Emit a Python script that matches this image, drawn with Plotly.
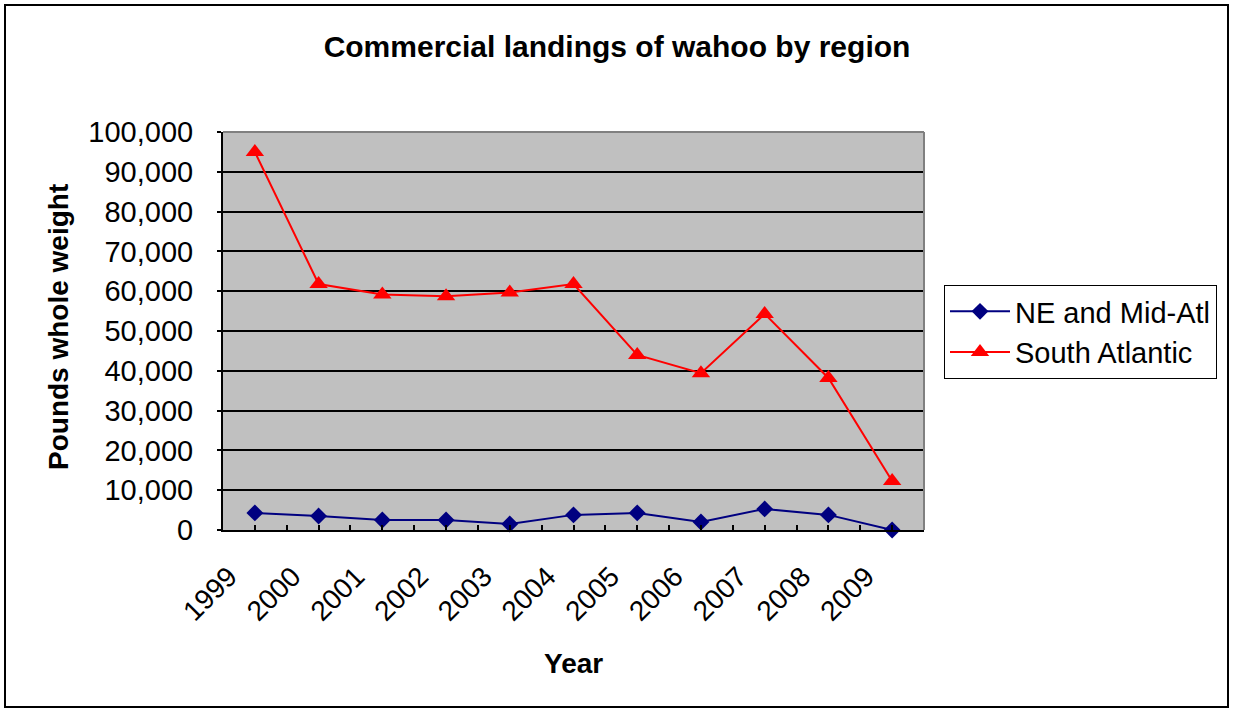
import plotly.graph_objects as go

years = ["1999", "2000", "2001", "2002", "2003", "2004", "2005", "2006", "2007", "2008", "2009"]
ne_mid_atl = [4300, 3500, 2500, 2500, 1500, 3800, 4300, 2000, 5300, 3800, 0]
south_atlantic = [95000, 61800, 59200, 58700, 59700, 61800, 44000, 39400, 54300, 38200, 12300]
y_ticks = [0, 10000, 20000, 30000, 40000, 50000, 60000, 70000, 80000, 90000, 100000]

W, H = 1233, 712
FONT = "Liberation Sans, Arial, sans-serif"
xpos = list(range(len(years)))


def px(x):
    return x / W


def py(y):
    return 1 - y / H


fig = go.Figure()
fig.add_trace(go.Scatter(
    x=xpos, y=ne_mid_atl, name="NE and Mid-Atl", mode="lines+markers",
    line=dict(color="#000080", width=2),
    marker=dict(symbol="diamond", size=13, color="#000080"),
    cliponaxis=False,
))
fig.add_trace(go.Scatter(
    x=xpos, y=south_atlantic, name="South Atlantic", mode="lines+markers",
    line=dict(color="#FF0000", width=2),
    marker=dict(symbol="triangle-up", size=16, color="#FF0000"),
    cliponaxis=False,
))

x0, x1 = px(223), px(924)
y0, y1 = py(530), py(132)

fig.update_layout(
    width=W, height=H,
    margin=dict(l=0, r=0, t=0, b=0, autoexpand=False),
    paper_bgcolor="white",
    plot_bgcolor="#C0C0C0",
    font=dict(family=FONT, color="black", size=29),
    title=dict(text="<b>Commercial landings of wahoo by region</b>",
               x=px(617), xanchor="center", y=py(46), yanchor="middle",
               font=dict(family=FONT, size=30, color="black"), automargin=False),
    xaxis=dict(
        domain=[x0, x1], range=[-0.5, len(years) - 0.5], automargin=False,
        tickmode="array", tickvals=xpos, ticktext=years,
        tickangle=-45, ticks="inside", ticklen=5, tickcolor="black", tickwidth=2,
        minor=dict(ticks="inside", ticklen=5, tickcolor="black", tickwidth=2, dtick=0.5, tick0=0.5, showgrid=False),
        showgrid=False, zeroline=False,
        showline=True, linecolor="black", linewidth=2,
        tickfont=dict(size=28), ticklabelstandoff=17, ticklabelshift=-26,
    ),
    yaxis=dict(
        domain=[y0, y1], range=[0, 100000], automargin=False,
        tickmode="array", tickvals=y_ticks, tickformat=",",
        ticks="outside", ticklen=4, tickcolor="black", tickwidth=2,
        showgrid=True, gridcolor="black", gridwidth=2,
        zeroline=False, showline=True, linecolor="black", linewidth=2,
        tickfont=dict(size=29), ticklabelstandoff=18,
    ),
    legend=dict(
        x=px(944), y=py(285), xanchor="left", yanchor="top",
        bordercolor="black", borderwidth=1, bgcolor="white",
        font=dict(size=29), itemwidth=60, tracegroupgap=0,
    ),
    showlegend=True,
)

# plot-area top/right border (gray)
fig.add_shape(type="line", xref="paper", yref="paper", x0=x0, x1=x1, y0=y1, y1=y1,
              line=dict(color="#808080", width=2))
fig.add_shape(type="line", xref="paper", yref="paper", x0=x1, x1=x1, y0=y0, y1=y1,
              line=dict(color="#808080", width=2))
# outer chart border
fig.add_shape(type="rect", xref="paper", yref="paper",
              x0=px(5), x1=px(1228), y0=py(707), y1=py(5),
              line=dict(color="black", width=2), fillcolor="rgba(0,0,0,0)")

fig.add_annotation(text="<b>Pounds whole weight</b>", xref="paper", yref="paper",
                   x=px(58), y=py(327), textangle=-90, showarrow=False,
                   xanchor="center", yanchor="middle", font=dict(size=28, family=FONT))
fig.add_annotation(text="<b>Year</b>", xref="paper", yref="paper",
                   x=px(573), y=py(663), showarrow=False,
                   xanchor="center", yanchor="middle", font=dict(size=28, family=FONT))

fig.write_html("out.html", config={"displayModeBar": False},
               post_script="document.body.style.margin='0';")
